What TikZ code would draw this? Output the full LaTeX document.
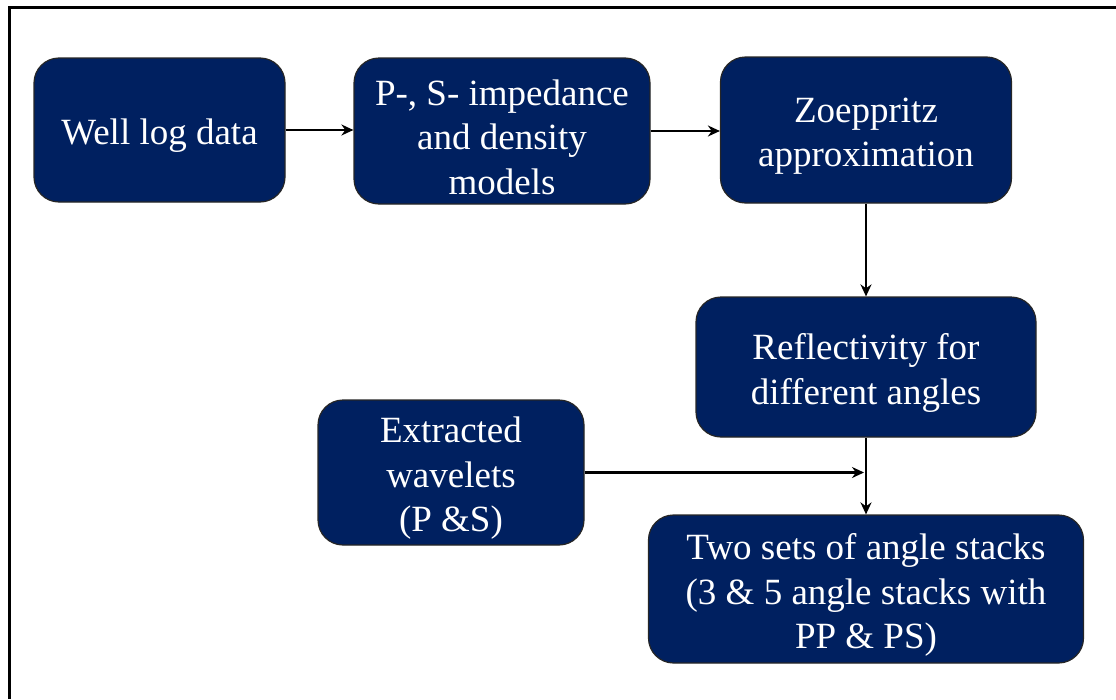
\documentclass[tikz,border=0pt]{standalone}
\usepackage{fontspec}
\setmainfont{Liberation Serif}
\usetikzlibrary{arrows.meta}
\definecolor{navy}{HTML}{002060}
\begin{document}
\begin{tikzpicture}[x=1pt,y=-1pt,
  stepbox/.style={draw=black!85, line width=1.2pt, fill=navy, rounded corners=25pt,
    inner sep=0pt},
  caption/.style={text=white, align=center, inner sep=0pt, yshift=-6pt,
    font=\fontsize{37}{44.5}\selectfont},
  arr/.style={line width=2.8pt, -{Stealth[length=12pt,width=11pt]}}]
  \useasboundingbox (0,0) rectangle (1116,699);
  % outer frame (continues past the right and bottom edges)
  \draw[line width=3pt] (9,699) -- (9,7) -- (1116,7);

  \node[stepbox, minimum width=251pt, minimum height=144pt,
    label={[caption]center:Well log data}] (well) at (159.5,130) {};
  \node[stepbox, minimum width=296pt, minimum height=146pt,
    label={[caption]center:{P-, S- impedance\\and density\\models}}] (imp) at (502,131) {};
  \node[stepbox, minimum width=291pt, minimum height=146pt,
    label={[caption]center:{Zoeppritz\\approximation}}] (zoe) at (866,130) {};
  \node[stepbox, minimum width=340pt, minimum height=140pt,
    label={[caption]center:{Reflectivity for\\different angles}}] (refl) at (866,367) {};
  \node[stepbox, minimum width=266pt, minimum height=145pt,
    label={[caption]center:{Extracted\\wavelets\\(P \&S)}}] (wav) at (451,472.5) {};
  \node[stepbox, minimum width=435pt, minimum height=148pt,
    label={[caption]center:{Two sets of angle stacks\\(3 \& 5 angle stacks with\\PP \& PS)}}] (two) at (866,589) {};

  \coordinate (join) at (wav.east -| refl.south);
  \draw[arr] (well.east) -- (well.east -| imp.west);
  \draw[arr] (imp.east) -- (imp.east -| zoe.west);
  \draw[arr] (zoe.south) -- (refl.north);
  \draw[arr] (refl.south) -- (two.north);
  \draw[arr, shorten >=2pt] (wav.east) -- (join);
\end{tikzpicture}
\end{document}
